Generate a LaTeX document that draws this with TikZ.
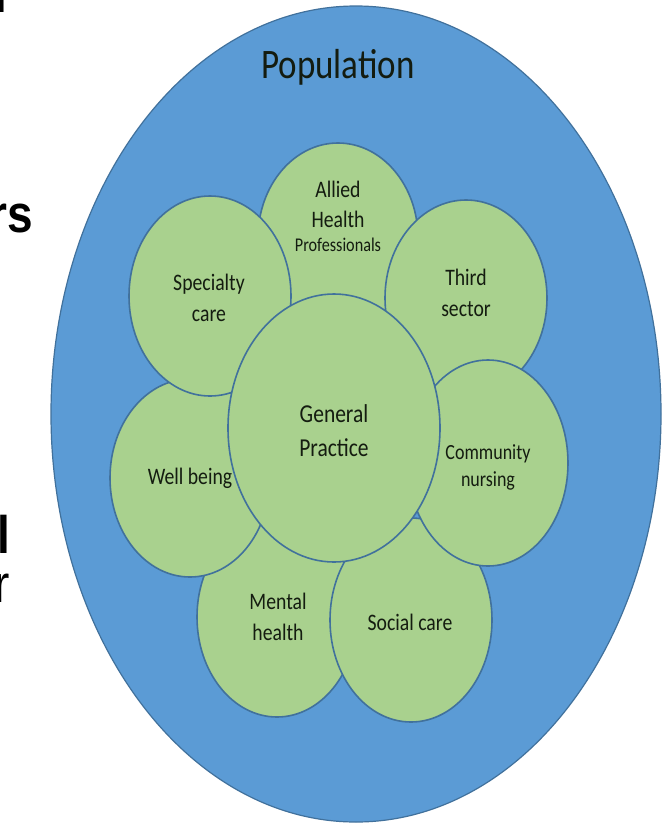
\documentclass[tikz,border=0pt]{standalone}
\usepackage{fontspec}
\setmainfont{Carlito}
\newfontfamily\slidefont{Liberation Sans}
\usetikzlibrary{shapes.geometric}
\definecolor{popblue}{HTML}{5B9BD5}
\definecolor{petalgreen}{HTML}{A9D18E}
\definecolor{rimblue}{HTML}{41719C}
\definecolor{ink}{HTML}{141C10}
\begin{document}
\begin{tikzpicture}[x=1pt,y=-1pt,
  population/.style={ellipse, draw=rimblue, fill=popblue, line width=1.2pt, inner sep=0pt},
  petal/.style={ellipse, draw=rimblue, fill=petalgreen, line width=1.6pt, inner sep=0pt,
    minimum width=160pt, minimum height=198pt},
  label text/.style={text=ink, align=center, inner sep=0pt, yscale=1.2,
    font=\fontsize{19.7}{25.5}\selectfont},
  edge text/.style={text=black, inner sep=0pt, yscale=1.15}]
\useasboundingbox (0,0) rectangle (662,825);
\clip (0,0) rectangle (662,825);
\fill[white] (0,0) rectangle (662,825);

% text cut off at the left margin of the slide
\node[edge text, anchor=base east, font=\slidefont\bfseries\fontsize{46}{50}\selectfont] (cut-a) at (7,12) {l};
\node[edge text, anchor=base east, font=\slidefont\bfseries\fontsize{46}{50}\selectfont] (cut-b) at (33,232) {rs};
\node[edge text, anchor=base east, font=\slidefont\bfseries\fontsize{46}{50}\selectfont] (cut-c) at (10,553) {l};
\node[edge text, anchor=base east, font=\slidefont\fontsize{46}{50}\selectfont] (cut-d) at (10,602) {r};

% the population
\node[population, minimum width=610pt, minimum height=816pt] (pop) at (356,414) {};
\node[label text, anchor=base, font=\fontsize{35}{40}\selectfont] (pop-t) at (338,78) {Population};

% surrounding services, back to front
\node[petal, minimum width=160pt, minimum height=200pt] (mental) at (277,617) {};
\node[petal, minimum width=162pt, minimum height=204pt] (social) at (411,620) {};
\node[petal, minimum width=160pt, minimum height=198pt] (wellbeing) at (190,478) {};
\node[petal, minimum width=160pt, minimum height=190pt] (allied) at (338,238) {};
\node[petal, minimum width=162pt, minimum height=200pt] (specialty) at (210,296) {};
\node[petal, minimum width=162pt, minimum height=196pt] (third) at (466,298) {};
\node[petal, minimum width=160pt, minimum height=206pt] (community) at (488,463) {};

% general practice at the centre
\node[petal, minimum width=212pt, minimum height=268pt] (gp) at (334,428) {};

% labels
\node[label text] (allied-t) at (338,216) {Allied\\Health\\[-6pt]{\fontsize{16.2}{20}\selectfont Professionals}};
\node[label text] (specialty-t) at (209,298) {Specialty\\care};
\node[label text] (third-t) at (466,293) {Third\\sector};
\node[label text, font=\fontsize{21.5}{28.5}\selectfont] (gp-t) at (334,431) {General\\Practice};
\node[label text, font=\fontsize{18}{22.5}\selectfont] (community-t) at (488,467) {Community\\nursing};
\node[label text, anchor=base] (wellbeing-t) at (190,484) {Well being};
\node[label text] (mental-t) at (278,617) {Mental\\health};
\node[label text, anchor=base] (social-t) at (410,630) {Social care};
\end{tikzpicture}
\end{document}
